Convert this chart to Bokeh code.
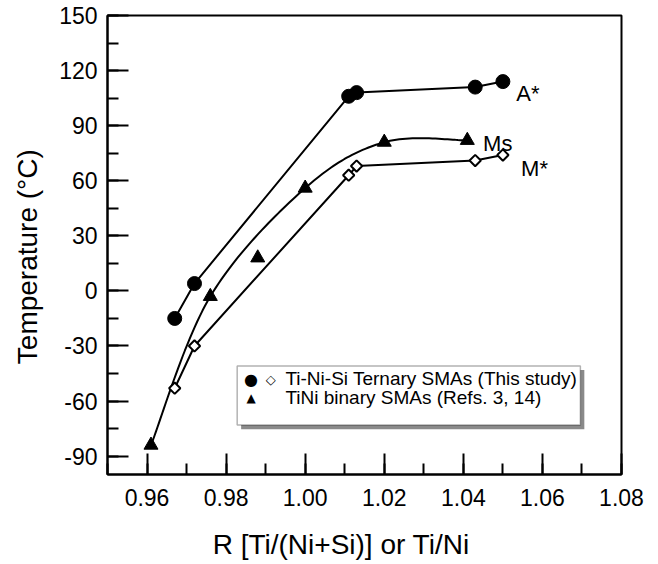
import numpy as np
from bokeh.plotting import figure
from bokeh.models import (Range1d, SingleIntervalTicker, PrintfTickFormatter,
                          BoxAnnotation, Label)
from bokeh.embed import file_html
from bokeh.resources import INLINE

# ---- data ----
a_x = [0.967, 0.972, 1.011, 1.013, 1.043, 1.050]   # A* (filled circles)
a_y = [-15, 4, 106, 108, 111, 114]
m_x = [0.967, 0.972, 1.011, 1.013, 1.043, 1.050]   # M* (open diamonds)
m_y = [-53, -30, 63, 68, 71, 74]
ms_x = [0.961, 0.976, 0.988, 1.000, 1.020, 1.041]  # Ms, TiNi binary (triangles)
ms_y = [-84, -3, 18, 56, 81, 82]
ms_curve_idx = [0, 1, 3, 4, 5]                     # points the smooth Ms curve runs through

x_label = "R [Ti/(Ni+Si)] or Ti/Ni"
y_label = "Temperature (\u00b0C)"
legend_labels = ["Ti-Ni-Si Ternary SMAs (This study)", "TiNi binary SMAs (Refs. 3, 14)"]
series_names = ["A*", "Ms", "M*"]

FONT = "Liberation Sans"


def catmull_rom(xs, ys, sx, sy, n=30):
    P = np.column_stack([np.asarray(xs) * sx, np.asarray(ys) * sy])
    pts = np.vstack([P[0], P, P[-1]])
    out = []
    t = np.linspace(0, 1, n)[:, None]
    for i in range(1, len(pts) - 2):
        p0, p1, p2, p3 = pts[i - 1], pts[i], pts[i + 1], pts[i + 2]
        m1 = (p2 - p0) / 2
        m2 = (p3 - p1) / 2
        h00 = 2 * t**3 - 3 * t**2 + 1
        h10 = t**3 - 2 * t**2 + t
        h01 = -2 * t**3 + 3 * t**2
        h11 = t**3 - t**2
        seg = h00 * p1 + h10 * m1 + h01 * p2 + h11 * m2
        out.append(seg if i == 1 else seg[1:])
    c = np.vstack(out)
    return c[:, 0] / sx, c[:, 1] / sy


p = figure(width=658, height=564, output_backend="svg", toolbar_location=None,
           x_range=Range1d(0.95, 1.08), y_range=Range1d(-100, 150),
           min_border_left=107, min_border_right=37, min_border_top=15, min_border_bottom=90)
p.background_fill_color = "white"
p.border_fill_color = "white"
p.outline_line_color = "black"
p.outline_line_width = 2
p.xgrid.visible = False
p.ygrid.visible = False

p.xaxis.ticker = SingleIntervalTicker(interval=0.02, num_minor_ticks=2)
p.yaxis.ticker = SingleIntervalTicker(interval=30, num_minor_ticks=2)
p.xaxis.formatter = PrintfTickFormatter(format="%.2f")
p.yaxis.formatter = PrintfTickFormatter(format="%d")

for ax in (p.xaxis[0], p.yaxis[0]):
    ax.major_tick_in = 21
    ax.major_tick_out = 0
    ax.minor_tick_in = 11
    ax.minor_tick_out = 0
    ax.axis_line_width = 2
    ax.major_tick_line_width = 2
    ax.minor_tick_line_width = 2
    ax.axis_line_color = "black"
    ax.major_tick_line_color = "black"
    ax.minor_tick_line_color = "black"
    ax.major_label_text_font = FONT
    ax.major_label_text_font_size = "23px"
    ax.major_label_text_color = "black"
    ax.axis_label_text_font = FONT
    ax.axis_label_text_font_size = "28px"
    ax.axis_label_text_font_style = "normal"
    ax.axis_label_text_color = "black"

p.xaxis.axis_label = x_label + "\u00a0" * 6
p.yaxis.axis_label = y_label + "\u00a0" * 3
p.xaxis.major_label_standoff = 14
p.xaxis.axis_label_standoff = 20
p.yaxis.major_label_standoff = 10
p.yaxis.axis_label_standoff = 13

# lines
p.line(a_x, a_y, line_color="black", line_width=2)
p.line(m_x, m_y, line_color="black", line_width=2)
cx, cy = catmull_rom([ms_x[i] for i in ms_curve_idx], [ms_y[i] for i in ms_curve_idx], 3950, 1.833)
p.line(cx, cy, line_color="black", line_width=2)

# markers
p.scatter(a_x, a_y, marker="circle", size=14, fill_color="black", line_color="black")
p.scatter(ms_x, ms_y, marker="triangle", size=14, fill_color="black", line_color="black")
p.scatter(m_x, m_y, marker="square", size=8, angle=np.pi / 4, fill_color="white",
          line_color="black", line_width=2)

# series labels
for txt, xx, yy, dx, dy in [(series_names[0], a_x[-1], a_y[-1], 0.0034, -6.5),
                            (series_names[1], ms_x[-1], ms_y[-1], 0.004, -1.8),
                            (series_names[2], m_x[-1], m_y[-1], 0.0046, -7.5)]:
    p.add_layout(Label(x=xx + dx, y=yy + dy, text=txt, text_font=FONT, text_font_size="22px",
                       text_baseline="alphabetic", text_align="left", text_color="black"))

# legend box with shadow
p.add_layout(BoxAnnotation(left=0.9838, right=1.0706, top=-43.1, bottom=-75.3,
                           fill_color="#8a8a8a", fill_alpha=1, line_alpha=0))
p.add_layout(BoxAnnotation(left=0.9828, right=1.0696, top=-40.9, bottom=-73.1,
                           fill_color="white", fill_alpha=1, line_color="black", line_width=1.5))
p.add_layout(Label(x=0.9863, y=-48.5, text="\u25cf", text_font="DejaVu Sans", text_font_size="16px",
                   text_align="center", text_baseline="middle", text_color="black"))
p.add_layout(Label(x=0.9913, y=-48.3, text="\u25c7", text_font="DejaVu Sans", text_font_size="13px",
                   text_font_style="bold", text_align="center", text_baseline="middle", text_color="black"))
p.add_layout(Label(x=0.9863, y=-58.5, text="\u25b2", text_font="DejaVu Sans", text_font_size="12px",
                   text_align="center", text_baseline="middle", text_color="black"))
p.add_layout(Label(x=0.995, y=-47.9, text=legend_labels[0], text_font=FONT, text_font_size="19px",
                   text_align="left", text_baseline="middle", text_color="black"))
p.add_layout(Label(x=0.995, y=-57.9, text=legend_labels[1], text_font=FONT, text_font_size="19px",
                   text_align="left", text_baseline="middle", text_color="black"))

open("out.html", "w").write(file_html(p, INLINE))
